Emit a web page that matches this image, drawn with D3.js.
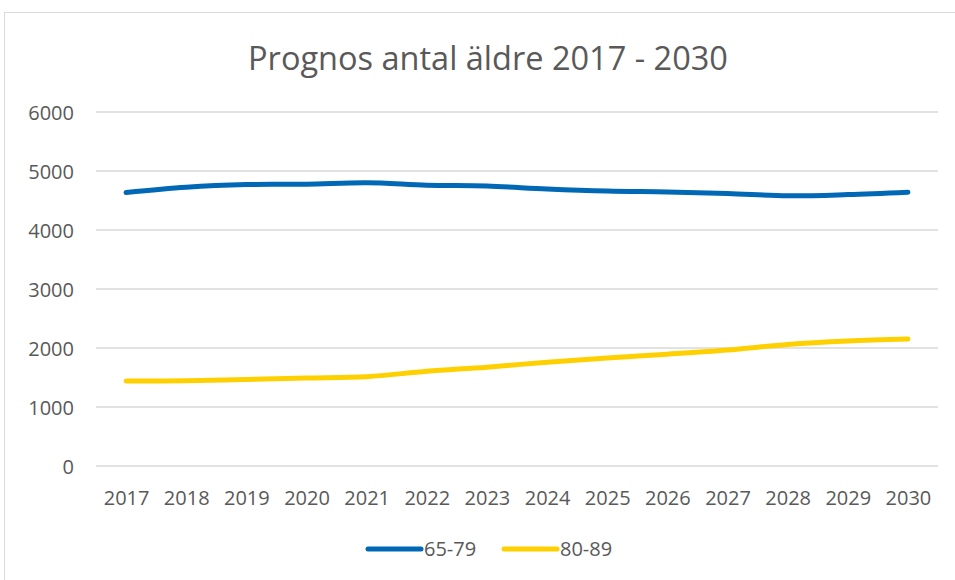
<!DOCTYPE html>
<html>
<head>
<meta charset="utf-8">
<script src="https://cdn.jsdelivr.net/npm/d3@7"></script>
<style>
  body { margin: 0; background: #fff; }
  text { font-family: "Open Sans", sans-serif; fill: #595959; }
</style>
</head>
<body>
<div id="chart"></div>
<script>
// Chart data
const years = ["2017", "2018", "2019", "2020", "2021", "2022", "2023", "2024", "2025", "2026", "2027", "2028", "2029", "2030"];
const age6579 = [4635, 4725, 4770, 4775, 4800, 4760, 4745, 4695, 4660, 4645, 4620, 4580, 4600, 4640];
const age8089 = [1440, 1445, 1468, 1492, 1514, 1605, 1675, 1760, 1832, 1895, 1966, 2060, 2118, 2153];
const yTicks = [0, 1000, 2000, 3000, 4000, 5000, 6000];
const seriesNames = ["65-79", "80-89"];
const colors = ["#0068B5", "#FFD000"];

const width = 955;
const height = 580;
const plot = { left: 96, right: 938, top: 112, bottom: 466 };

const svg = d3.select("#chart")
  .append("svg")
    .attr("width", width)
    .attr("height", height);

// Chart area border
svg.append("rect")
  .attr("x", 4.5)
  .attr("y", 12.5)
  .attr("width", 980)
  .attr("height", 600)
  .attr("fill", "none")
  .attr("stroke", "#d9d9d9");

// Title
svg.append("text")
  .attr("x", 488)
  .attr("y", 70)
  .attr("text-anchor", "middle")
  .style("font-size", "32.5px")
  .text("Prognos antal äldre 2017 - 2030");

const x = d3.scalePoint()
  .domain(years)
  .range([plot.left, plot.right])
  .padding(0.5);

const y = d3.scaleLinear()
  .domain([0, 6000])
  .range([plot.bottom, plot.top]);

// Gridlines
svg.append("g")
  .selectAll("line")
  .data(yTicks)
  .enter()
  .append("line")
    .attr("x1", plot.left)
    .attr("x2", plot.right)
    .attr("y1", d => y(d))
    .attr("y2", d => y(d))
    .attr("stroke", "#d9d9d9")
    .attr("stroke-width", 1.3);

// Y axis labels
const yAxis = svg.append("g")
  .attr("transform", `translate(${plot.left - 22}, 0)`)
  .call(d3.axisLeft(y).tickValues(yTicks).tickFormat(d3.format("d")).tickSize(0).tickPadding(0));
yAxis.select(".domain").remove();
yAxis.selectAll("text")
  .style("font-size", "20px")
  .attr("dy", "0.35em");

// X axis labels
const xAxis = svg.append("g")
  .attr("transform", `translate(0, ${plot.bottom + 25})`)
  .call(d3.axisBottom(x).tickSize(0).tickPadding(0));
xAxis.select(".domain").remove();
xAxis.selectAll("text")
  .style("font-size", "20px")
  .attr("dy", "0.71em");

// Lines
const line = d3.line()
  .x((d, i) => x(years[i]))
  .y(d => y(d))
  .curve(d3.curveCatmullRom.alpha(0.5));

[age6579, age8089].forEach((values, i) => {
  svg.append("path")
    .datum(values)
    .attr("d", line)
    .attr("fill", "none")
    .attr("stroke", colors[i])
    .attr("stroke-width", 5)
    .attr("stroke-linecap", "round")
    .attr("stroke-linejoin", "round");
});

// Legend
const legendX = [368, 504];
seriesNames.forEach((name, i) => {
  const g = svg.append("g")
    .attr("transform", `translate(${legendX[i]}, 549)`);
  g.append("line")
    .attr("x1", 0)
    .attr("x2", 53)
    .attr("stroke", colors[i])
    .attr("stroke-width", 5)
    .attr("stroke-linecap", "round");
  g.append("text")
    .attr("x", 56)
    .attr("dy", "0.35em")
    .style("font-size", "20px")
    .text(name);
});
</script>
</body>
</html>
